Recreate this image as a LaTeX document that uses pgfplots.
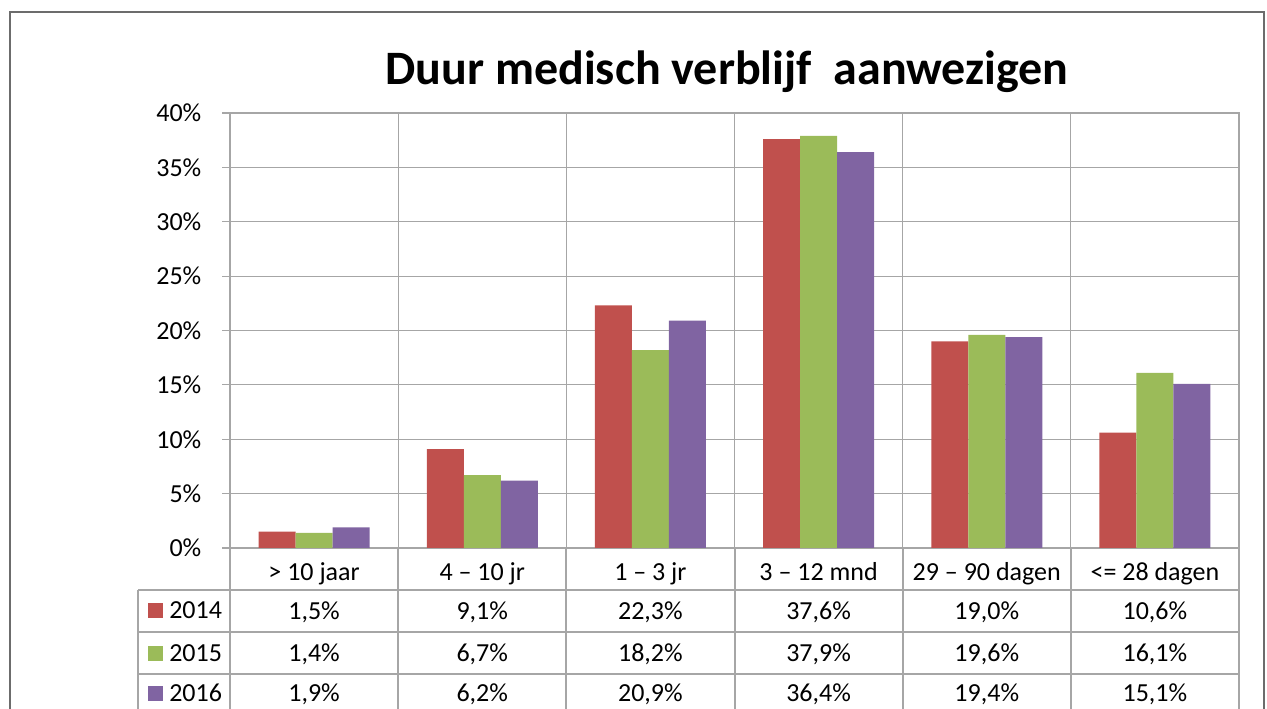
\documentclass[border=0pt]{standalone}
\usepackage{pgfplots}
\usepackage{pgfplotstable}
\pgfplotsset{compat=1.18}
\usepackage{fontspec}
\setmainfont{Carlito}

\definecolor{c14}{HTML}{C0504D}
\definecolor{c15}{HTML}{9BBB59}
\definecolor{c16}{HTML}{8064A2}
\definecolor{gridc}{HTML}{A6A6A6}

% aandeel per duurklasse (%)
\pgfplotstableread{
x a b c
0 1.5 1.4 1.9
1 9.1 6.7 6.2
2 22.3 18.2 20.9
3 37.6 37.9 36.4
4 19.0 19.6 19.4
5 10.6 16.1 15.1
}\data

\newcommand{\cellfmt}{\pgfmathprintnumber[fixed,fixed zerofill,precision=1,use comma]{\pgfplotspointmeta}\%}

\begin{document}
\begin{tikzpicture}[x=0.75pt,y=0.75pt]
\path[use as bounding box] (0,0) rectangle (1267,709);
\draw[gray!85!black, line width=1.5pt] (10,697) rectangle (1264,-10);

\node[font=\bfseries\fontsize{36}{42}\selectfont] at (727,637) {Duur medisch verblijf\ \ aanwezigen};

\begin{axis}[
    at={(172.5pt,120.75pt)}, anchor=south west,
    width=756.75pt, height=326.25pt, scale only axis,
    xmin=-0.5, xmax=5.5, ymin=0, ymax=40,
    clip=false,
    axis line style={gridc, line width=0.9pt},
    xtick={0,...,5},
    xticklabels={{> 10 jaar},{4 -- 10 jr},{1 -- 3 jr},{3 -- 12 mnd},{29 -- 90 dagen},{<= 28 dagen}},
    xtick style={draw=none},
    minor xtick={0.5,1.5,...,4.5},
    minor x tick style={draw=none},
    xminorgrids=true,
    ytick={0,5,...,40},
    ytick pos=left,
    ymajorgrids=true,
    grid style={gridc, line width=0.9pt},
    minor grid style={gridc, line width=0.9pt},
    ytick style={gridc, line width=0.9pt},
    tick align=outside, major tick length=6pt,
    yticklabel={\pgfmathprintnumber{\tick}\%},
    /pgf/number format/assume math mode=true,
    tick label style={font=\fontsize{19.5}{23}\selectfont},
    xticklabel style={anchor=base, yshift=-18.5pt},
    yticklabel style={anchor=east, xshift=-12pt},
    nodes near coords align={anchor=base},
    nodes near coords style={font=\fontsize{19.5}{23}\selectfont, anchor=base, inner sep=0pt},
]
\addplot[ybar, fill=c14, draw=none, bar width=27.75pt, bar shift=-27.75pt] table[x=x,y=a]{\data};
\addplot[ybar, fill=c15, draw=none, bar width=27.75pt, bar shift=0pt] table[x=x,y=b]{\data};
\addplot[ybar, fill=c16, draw=none, bar width=27.75pt, bar shift=27.75pt] table[x=x,y=c]{\data};
% datatabel onder de grafiek
\addplot[draw=none, mark=none, nodes near coords={\cellfmt}, point meta=\thisrow{a}] table[x=x, y expr=-6.53]{\data};
\addplot[draw=none, mark=none, nodes near coords={\cellfmt}, point meta=\thisrow{b}] table[x=x, y expr=-10.48]{\data};
\addplot[draw=none, mark=none, nodes near coords={\cellfmt}, point meta=\thisrow{c}] table[x=x, y expr=-14.16]{\data};
\end{axis}

\begin{scope}[gridc, line width=0.9pt]
\foreach \xx in {230,398,566,735,903,1071,1239} \draw (\xx,161) -- (\xx,-5);
\draw (138,119) -- (138,-5);
\foreach \yy in {119,77,35} \draw (138,\yy) -- (1239,\yy);
\end{scope}
\foreach \yy/\cc/\lab in {90/c14/2014,47/c15/2015,7/c16/2016}{
  \fill[\cc] (148,\yy+1) rectangle (163,\yy+16);
  \node[anchor=base west, font=\fontsize{19.5}{23}\selectfont, inner sep=0pt] at (169,\yy) {\lab};
}
\end{tikzpicture}
\end{document}
